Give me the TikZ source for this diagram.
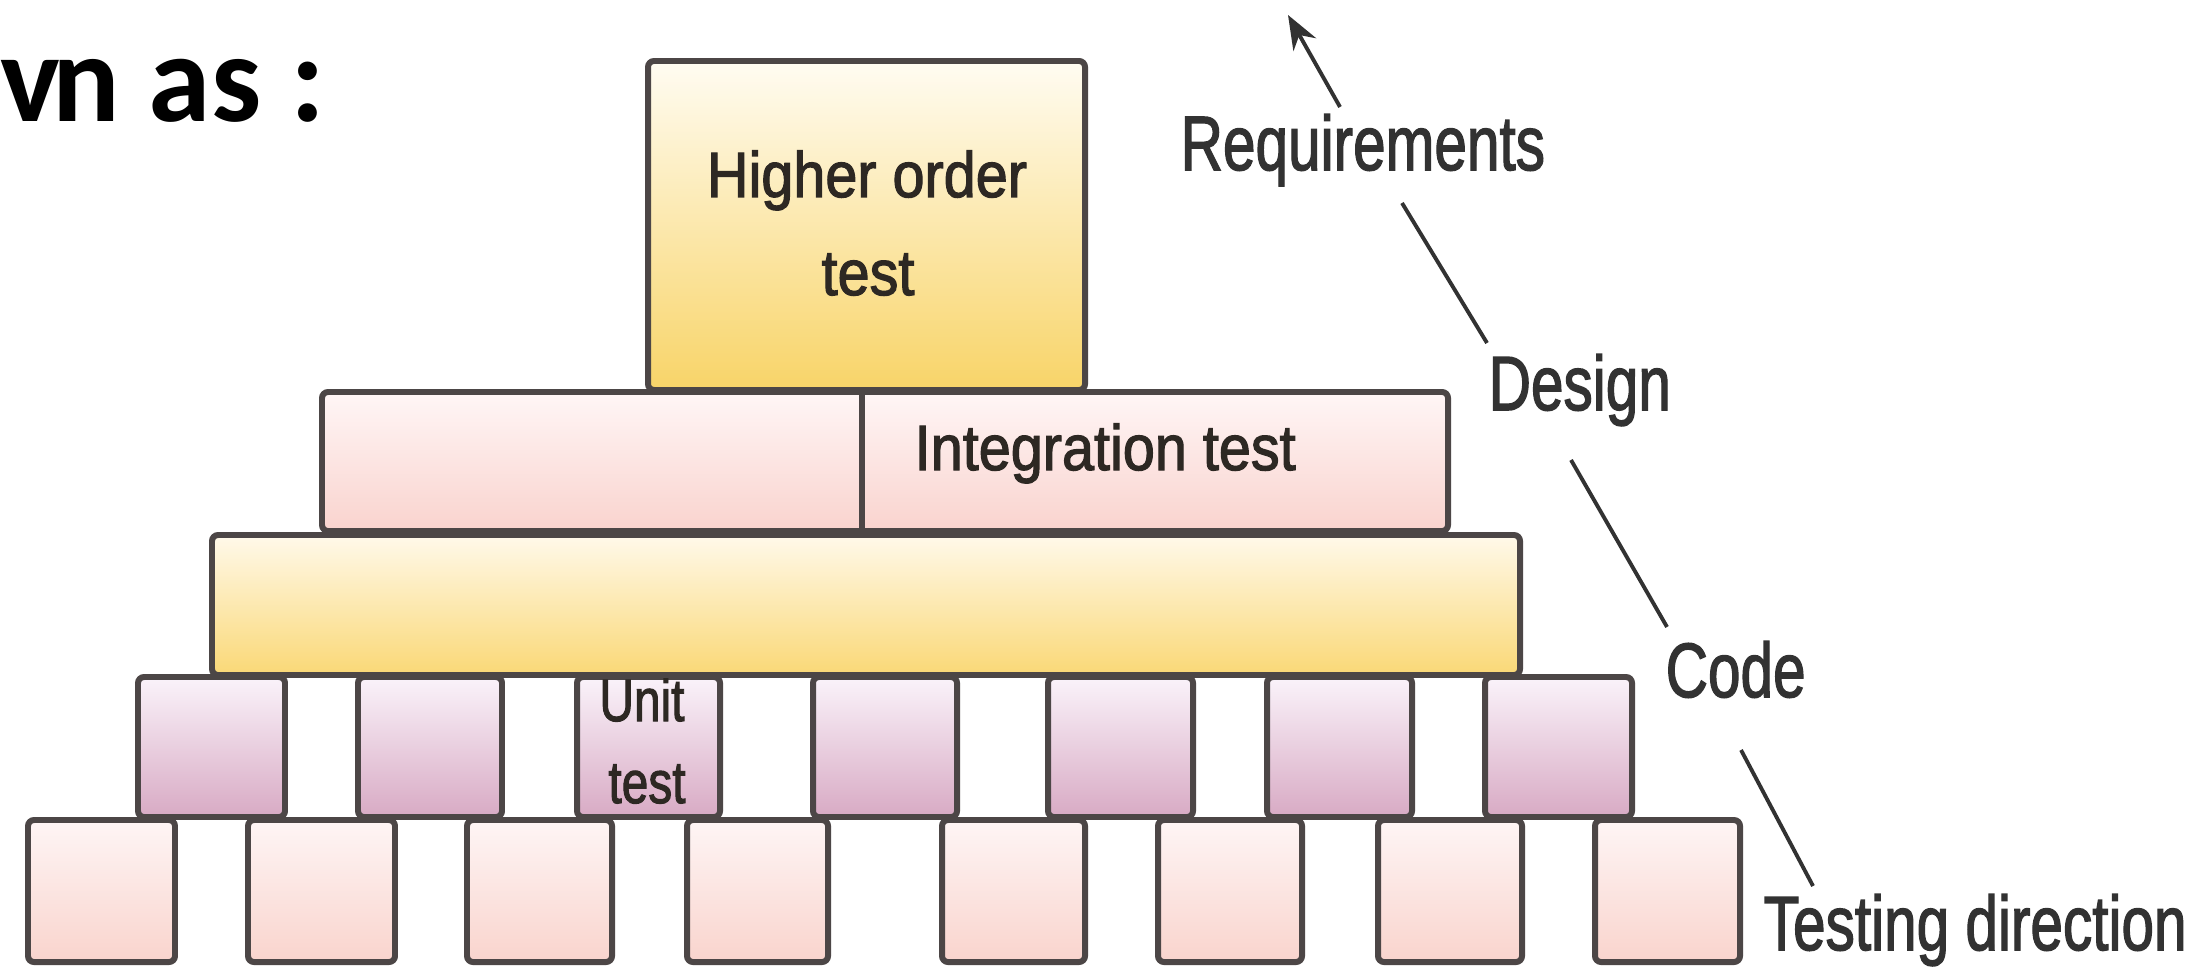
\documentclass[tikz,border=0pt]{standalone}
\usepackage{fontspec}
\setmainfont{Liberation Sans}
\newfontfamily\heavysans{Liberation Sans}[FakeBold=2]
\newfontfamily\titlefont{Carlito}
\usetikzlibrary{arrows.meta}
\definecolor{edgec}{RGB}{76,70,70}
\definecolor{txtc}{RGB}{45,40,35}
\definecolor{lblc}{RGB}{50,50,50}
\definecolor{hiTop}{RGB}{255,252,242}
\definecolor{hiBot}{RGB}{248,212,104}
\definecolor{inTop}{RGB}{255,246,246}
\definecolor{inBot}{RGB}{249,211,206}
\definecolor{yeTop}{RGB}{255,249,234}
\definecolor{yeBot}{RGB}{250,216,118}
\definecolor{maTop}{RGB}{250,243,250}
\definecolor{maBot}{RGB}{216,170,196}
\definecolor{boTop}{RGB}{254,245,245}
\definecolor{boBot}{RGB}{249,212,205}
\tikzset{
  blk/.style={draw=edgec, line width=1.7pt, rounded corners=0.06cm},
  conn/.style={draw=lblc, line width=1.1pt},
  boxtxt/.style={inner sep=0, text=txtc},
  lbl/.style={inner sep=0, anchor=base west, text=lblc}
}
\newcommand{\btxt}[1]{\heavysans\fontsize{18.2pt}{22pt}\selectfont\scalebox{0.9}[1]{#1}}
\newcommand{\utxt}[1]{\heavysans\fontsize{17pt}{20pt}\selectfont\scalebox{0.8}[1]{#1}}
\newcommand{\ltxt}[1]{\heavysans\fontsize{21.9pt}{26pt}\selectfont\scalebox{0.76}[1]{#1}}
\begin{document}
\begin{tikzpicture}[x=0.01cm,y=-0.01cm]
\useasboundingbox (0,0) rectangle (2198,967);
\fill[white] (0,0) rectangle (2198,967);

% title fragment
\node[anchor=base west, inner sep=0] (title) at (0,122)
  {\titlefont\bfseries\fontsize{35.85pt}{40pt}\selectfont v\kern-0.06em n as :};

% bottom row
\foreach \a/\b in {28/175,248/395,467/612,687/828,942/1085,1158/1302,1378/1522,1595/1740}
  \path[blk, top color=boTop, bottom color=boBot] (\a,820) rectangle (\b,962);

% unit-test row
\foreach \a/\b in {138/285,358/502,577/720,813/957,1048/1193,1267/1412,1485/1632}
  \path[blk, top color=maTop, bottom color=maBot] (\a,677) rectangle (\b,817);
\node[boxtxt, anchor=base] (unit1) at (642,721) {\utxt{Unit}};
\node[boxtxt, anchor=base] (unit2) at (647,803) {\utxt{test}};

% long yellow bar
\path[blk, top color=yeTop, bottom color=yeBot] (212,535) rectangle (1520,675);

% integration row
\path[blk, top color=inTop, bottom color=inBot] (322,392) rectangle (1448,531);
\draw[edgec, line width=1.7pt] (862,392) -- (862,531);
\node[boxtxt, anchor=base west] (integ) at (914,470) {\btxt{Integration test}};

% higher order box
\path[blk, top color=hiTop, bottom color=hiBot] (648,61) rectangle (1085,390);
\node[boxtxt, anchor=base] (hot1) at (867,197) {\btxt{Higher order}};
\node[boxtxt, anchor=base] (hot2) at (868,295) {\btxt{test}};

% right-hand labels
\node[lbl] (req) at (1180,170) {\ltxt{Requirements}};
\node[lbl] (des) at (1488,410) {\ltxt{Design}};
\node[lbl] (code) at (1665,697) {\ltxt{Code}};
\node[lbl] (tdir) at (1763,950) {\ltxt{Testing direction}};
\coordinate (tip) at (1288,15);

\draw[conn, -{Stealth[length=0.34cm, width=0.26cm]}] ([shift={(160,-63)}]req.base west) -- (tip);
\draw[conn] ([shift={(222,33)}]req.base west) -- ([shift={(-1,-67)}]des.base west);
\draw[conn] ([shift={(83,50)}]des.base west) -- ([shift={(2,-70)}]code.base west);
\draw[conn] ([shift={(76,53)}]code.base west) -- ([shift={(50,-64)}]tdir.base west);
\end{tikzpicture}
\end{document}
